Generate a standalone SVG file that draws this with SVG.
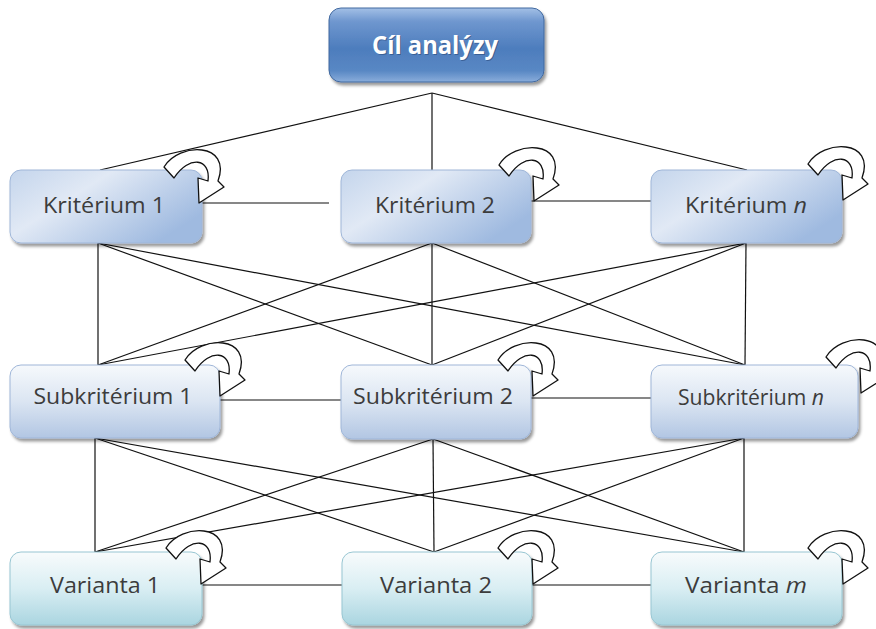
<svg xmlns="http://www.w3.org/2000/svg" width="876" height="629" viewBox="0 0 876 629">
  <defs>
    <linearGradient id="gTop" x1="0" y1="0" x2="0" y2="1">
      <stop offset="0" stop-color="#a3c0e6"/>
      <stop offset="0.18" stop-color="#6f97cf"/>
      <stop offset="0.55" stop-color="#4d7dbd"/>
      <stop offset="0.85" stop-color="#5988c4"/>
      <stop offset="1" stop-color="#8aaddb"/>
    </linearGradient>
    <linearGradient id="gKrit" x1="0" y1="0" x2="1" y2="0.6">
      <stop offset="0" stop-color="#c4d5ec"/>
      <stop offset="0.4" stop-color="#e1e9f5"/>
      <stop offset="1" stop-color="#9fbae0"/>
    </linearGradient>
    <linearGradient id="gSub" x1="0" y1="0" x2="0" y2="1">
      <stop offset="0" stop-color="#f6f9fc"/>
      <stop offset="0.5" stop-color="#dbe5f2"/>
      <stop offset="1" stop-color="#b2c6e3"/>
    </linearGradient>
    <linearGradient id="gVar" x1="0" y1="0" x2="0" y2="1">
      <stop offset="0" stop-color="#f8fbfc"/>
      <stop offset="0.5" stop-color="#d9eef3"/>
      <stop offset="1" stop-color="#aad5e0"/>
    </linearGradient>
    <filter id="shadow" x="-10%" y="-10%" width="125%" height="135%">
      <feDropShadow dx="2" dy="3" stdDeviation="1.6" flood-color="#000" flood-opacity="0.4"/>
    </filter>
    <!-- curved self-loop arrow, tip at the origin -->
    <path id="loop" d="M -35,-36 C -20,-61 33,-61 19,-22 L 25,-16 L 0,0 L -1,-25 L 9,-22 C 12,-45 -10,-48 -25,-25 Z"/>
  </defs>
  <style>
    .edge { stroke: #111; stroke-width: 1.2; fill: none; }
    .box { stroke-width: 1; filter: url(#shadow); }
    .krit { fill: url(#gKrit); stroke: #9fb6d8; }
    .sub { fill: url(#gSub); stroke: #9fb6d8; }
    .var { fill: url(#gVar); stroke: #98c6d2; }
    .top { fill: url(#gTop); stroke: #41699f; }
    .lbl { font-family: "Open Sans", "Liberation Sans", sans-serif; font-size: 21px; fill: #3c3c3c; text-anchor: middle; }
    .ttl { font-family: "Open Sans", "Liberation Sans", sans-serif; font-size: 25px; font-weight: bold; fill: #ffffff; text-anchor: middle; }
    .ttl-sh { font-family: "Open Sans", "Liberation Sans", sans-serif; font-size: 25px; font-weight: bold; fill: #1f3a66; opacity: 0.45; text-anchor: middle; }
    .loop { fill: #ffffff; stroke: #111; stroke-width: 1.3; stroke-linejoin: round; }
  </style>

  <rect width="876" height="629" fill="#ffffff"/>

  <g id="connectors">
    <!-- goal to criteria -->
    <line class="edge" x1="432" y1="93" x2="100" y2="170"/>
    <line class="edge" x1="432" y1="93" x2="432" y2="170"/>
    <line class="edge" x1="432" y1="93" x2="747" y2="170"/>
    <!-- criteria row -->
    <line class="edge" x1="202" y1="203" x2="329" y2="203"/>
    <line class="edge" x1="531" y1="201" x2="651" y2="201"/>
    <!-- criteria to subcriteria -->
    <line class="edge" x1="98" y1="243" x2="98" y2="365"/>
    <line class="edge" x1="98" y1="243" x2="432" y2="365"/>
    <line class="edge" x1="98" y1="243" x2="745" y2="365"/>
    <line class="edge" x1="432" y1="243" x2="98" y2="365"/>
    <line class="edge" x1="432" y1="243" x2="432" y2="365"/>
    <line class="edge" x1="432" y1="243" x2="745" y2="365"/>
    <line class="edge" x1="746" y1="243" x2="98" y2="365"/>
    <line class="edge" x1="746" y1="243" x2="432" y2="365"/>
    <line class="edge" x1="746" y1="243" x2="745" y2="365"/>
    <!-- subcriteria row -->
    <line class="edge" x1="220" y1="400" x2="341" y2="400"/>
    <line class="edge" x1="531" y1="398" x2="651" y2="398"/>
    <!-- subcriteria to variants -->
    <line class="edge" x1="95" y1="438" x2="95" y2="552"/>
    <line class="edge" x1="95" y1="438" x2="434" y2="552"/>
    <line class="edge" x1="95" y1="438" x2="744" y2="552"/>
    <line class="edge" x1="433" y1="439" x2="95" y2="552"/>
    <line class="edge" x1="433" y1="439" x2="434" y2="552"/>
    <line class="edge" x1="433" y1="439" x2="744" y2="552"/>
    <line class="edge" x1="744" y1="438" x2="95" y2="552"/>
    <line class="edge" x1="744" y1="438" x2="434" y2="552"/>
    <line class="edge" x1="744" y1="438" x2="744" y2="552"/>
    <!-- variants row -->
    <line class="edge" x1="202" y1="585" x2="342" y2="585"/>
    <line class="edge" x1="532" y1="585" x2="651" y2="585"/>
  </g>

  <g id="goal">
    <rect class="box top" x="329" y="8" width="215" height="74" rx="12"/>
    <text class="ttl-sh" x="436" y="55" textLength="126" lengthAdjust="spacingAndGlyphs">Cíl analýzy</text>
    <text class="ttl" x="435" y="54" textLength="126" lengthAdjust="spacingAndGlyphs">Cíl analýzy</text>
  </g>

  <g id="krit1">
    <rect class="box krit" x="10" y="170" width="192" height="73" rx="11"/>
    <text class="lbl" x="104" y="213" textLength="122" lengthAdjust="spacingAndGlyphs">Kritérium 1</text>
  </g>
  <g id="krit2">
    <rect class="box krit" x="341" y="170" width="190" height="73" rx="11"/>
    <text class="lbl" x="435" y="213" textLength="120" lengthAdjust="spacingAndGlyphs">Kritérium 2</text>
  </g>
  <g id="kritN">
    <rect class="box krit" x="651" y="170" width="191" height="73" rx="11"/>
    <text class="lbl" x="746" y="213" textLength="122" lengthAdjust="spacingAndGlyphs">Kritérium <tspan font-style="italic">n</tspan></text>
  </g>

  <g id="sub1">
    <rect class="box sub" x="10" y="365" width="210" height="73" rx="11"/>
    <text class="lbl" x="113" y="404" textLength="159" lengthAdjust="spacingAndGlyphs">Subkritérium 1</text>
  </g>
  <g id="sub2">
    <rect class="box sub" x="341" y="365" width="190" height="74" rx="11"/>
    <text class="lbl" x="433" y="404" textLength="160" lengthAdjust="spacingAndGlyphs">Subkritérium 2</text>
  </g>
  <g id="subN">
    <rect class="box sub" x="651" y="365" width="207" height="73" rx="11"/>
    <text class="lbl" x="751" y="405" textLength="146" lengthAdjust="spacingAndGlyphs">Subkritérium <tspan font-style="italic">n</tspan></text>
  </g>

  <g id="var1">
    <rect class="box var" x="10" y="552" width="192" height="73" rx="11"/>
    <text class="lbl" x="105" y="593" textLength="110" lengthAdjust="spacingAndGlyphs">Varianta 1</text>
  </g>
  <g id="var2">
    <rect class="box var" x="342" y="552" width="190" height="73" rx="11"/>
    <text class="lbl" x="436" y="593" textLength="112" lengthAdjust="spacingAndGlyphs">Varianta 2</text>
  </g>
  <g id="varM">
    <rect class="box var" x="651" y="552" width="191" height="73" rx="11"/>
    <text class="lbl" x="746" y="593" textLength="122" lengthAdjust="spacingAndGlyphs">Varianta <tspan font-style="italic">m</tspan></text>
  </g>

  <g id="self-loops">
    <use href="#loop" class="loop" transform="translate(199,203)"/>
    <use href="#loop" class="loop" transform="translate(534,201)"/>
    <use href="#loop" class="loop" transform="translate(843,200)"/>
    <use href="#loop" class="loop" transform="translate(220,396)"/>
    <use href="#loop" class="loop" transform="translate(533,396)"/>
    <use href="#loop" class="loop" transform="translate(861,393)"/>
    <use href="#loop" class="loop" transform="translate(201,584)"/>
    <use href="#loop" class="loop" transform="translate(533,584)"/>
    <use href="#loop" class="loop" transform="translate(843,584)"/>
  </g>
</svg>
